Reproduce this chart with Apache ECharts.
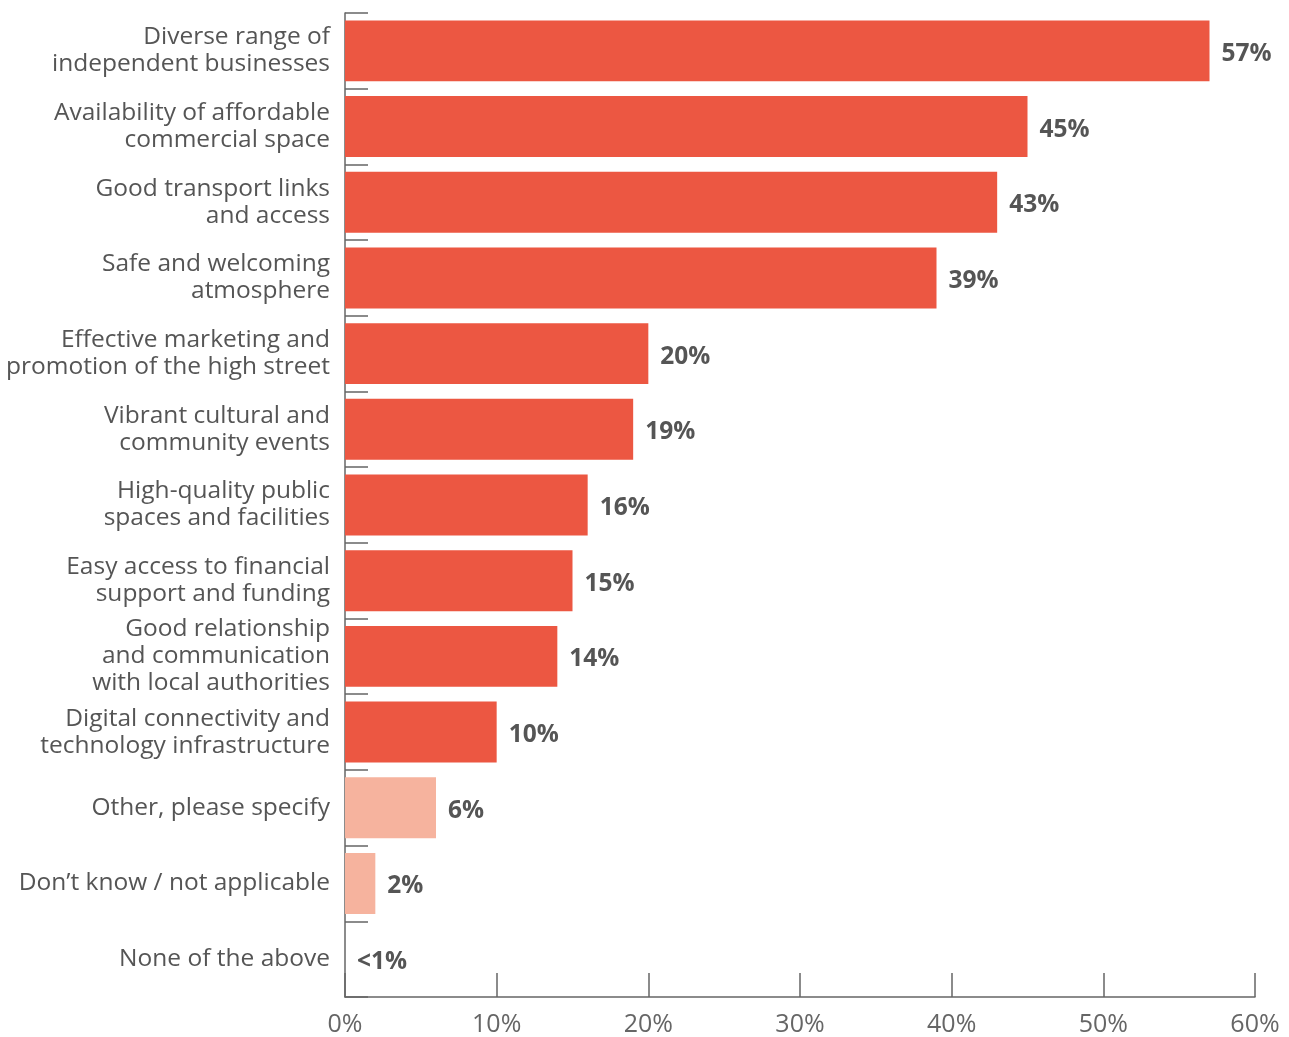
<!DOCTYPE html>
<html><head><meta charset="utf-8">
<script src="https://cdn.jsdelivr.net/npm/echarts@6/dist/echarts.min.js"></script>
<style>html,body{margin:0;padding:0;background:#fff}#c{width:1289px;height:1037px}</style>
</head><body><div id="c"></div>
<script>
const categories = [
  "Diverse range of\nindependent businesses",
  "Availability of affordable\ncommercial space",
  "Good transport links\nand access",
  "Safe and welcoming\natmosphere",
  "Effective marketing and\npromotion of the high street",
  "Vibrant cultural and\ncommunity events",
  "High-quality public\nspaces and facilities",
  "Easy access to financial\nsupport and funding",
  "Good relationship\nand communication\nwith local authorities",
  "Digital connectivity and\ntechnology infrastructure",
  "Other, please specify",
  "Don\u2019t know / not applicable",
  "None of the above"
];
const values = [57, 45, 43, 39, 20, 19, 16, 15, 14, 10, 6, 2, 0];
const valueLabels = ["57%","45%","43%","39%","20%","19%","16%","15%","14%","10%","6%","2%","<1%"];
const isSecondary = [false,false,false,false,false,false,false,false,false,false,true,true,true];
const xTicks = [0,10,20,30,40,50,60];

const FONT = "'Open Sans', sans-serif";
const chart = echarts.init(document.getElementById('c'));
chart.setOption({
  animation: false,
  grid: {left: 345, right: 34, top: 13, bottom: 40, containLabel: false},
  xAxis: {
    type: 'value', min: 0, max: 60, interval: 10,
    axisLine: {show: true, lineStyle: {color: '#666', width: 1.5}},
    axisTick: {show: true, inside: true, length: 24, lineStyle: {color: '#666', width: 1.5}},
    splitLine: {show: false},
    axisLabel: {formatter: v => v + '%', color: '#666', fontSize: 25, fontFamily: FONT, margin: 15}
  },
  yAxis: {
    type: 'category', data: categories, inverse: true,
    axisLine: {show: true, lineStyle: {color: '#666', width: 1.5}},
    axisTick: {show: true, inside: true, length: 23, lineStyle: {color: '#666', width: 1.5}},
    axisLabel: {color: '#555', fontSize: 24.5, fontFamily: FONT, lineHeight: 27, margin: 15, align: 'right'}
  },
  series: [{
    type: 'bar',
    data: values.map((v, i) => ({value: v, itemStyle: {color: isSecondary[i] ? '#F6B39E' : '#EC5742'}})),
    barCategoryGap: '19.5%',
    label: {
      show: true, position: 'right', distance: 12, offset: [0, 3],
      formatter: p => valueLabels[p.dataIndex],
      color: '#555', fontSize: 24.5, fontWeight: 'bold', fontFamily: FONT
    }
  }]
});
</script></body></html>
